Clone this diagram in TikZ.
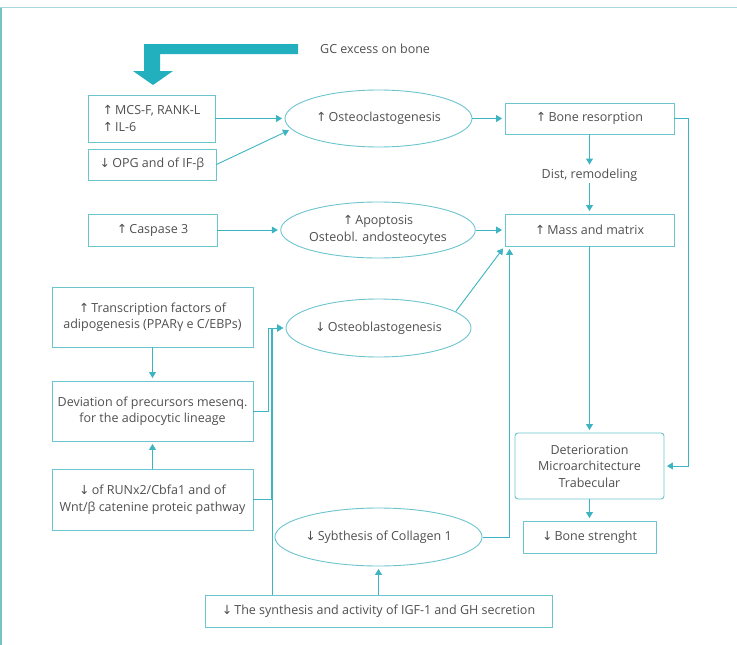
\documentclass[tikz,border=0pt]{standalone}
\usepackage{fontspec}
\setmainfont{Open Sans}
\newfontfamily\arrfont{DejaVu Sans}
\usetikzlibrary{shapes.geometric,arrows.meta,calc}
\definecolor{boxc}{HTML}{6CC4CE}
\definecolor{linec}{HTML}{3DB4C2}
\definecolor{bigc}{HTML}{22AFBE}
\definecolor{txt}{HTML}{4F4F4F}
\definecolor{frametop}{HTML}{A9D7DC}
\definecolor{frameleft}{HTML}{77C3C7}
\newcommand{\UpA}{{\arrfont ↑}\,}
\newcommand{\DnA}{{\arrfont ↓}\,}
\begin{document}
\begin{tikzpicture}[x=1pt,y=-1pt, font=\fontsize{12.5}{16.5}\selectfont, text=txt,
 bx/.style={draw=boxc, line width=0.9pt, inner sep=2pt, align=center},
 el/.style={ellipse, draw=boxc, line width=0.9pt, inner sep=0pt, align=center},
 con/.style={draw=linec, line width=0.9pt, -{Triangle[length=6pt,width=7pt]}, shorten >=2.5pt},
 ln/.style={draw=linec, line width=0.9pt}]
\useasboundingbox (0,0) rectangle (737,645);
% frame
\draw[frametop, line width=1.5pt] (0,7.5) -- (737,7.5);
\draw[frameleft, line width=1.5pt] (0.75,7.5) -- (0.75,645);
% big arrow
\fill[bigc] (144,44) -- (298,44) -- (298,54) -- (160,54) -- (160,71) -- (173,71) -- (153,85) -- (133,71) -- (144,71) -- cycle;
\node[anchor=west, inner sep=0pt] (gc) at (320,49) {GC excess on bone};
% nodes
\node[bx, align=left, minimum width=127pt, minimum height=47pt] (mcs) at (151.5,118.5) {\UpA MCS-F, RANK-L\\\UpA IL-6};
\node[bx, minimum width=128pt, minimum height=31pt] (opg) at (152,164.5) {\DnA OPG and of IF-β};
\node[bx, minimum width=129pt, minimum height=32pt] (cas) at (152.5,230) {\UpA Caspase 3};
\node[el, minimum width=187pt, minimum height=57pt] (oc) at (378.5,118.5) {\UpA Osteoclastogenesis};
\node[el, minimum width=186pt, minimum height=56pt] (ap) at (378,230) {\UpA Apoptosis\\Osteobl. andosteocytes};
\node[bx, minimum width=169pt, minimum height=31pt] (br) at (589.5,118.5) {\UpA Bone resorption};
\node[inner sep=1.5pt] (dist) at (589.5,175) {Dist, remodeling};
\node[bx, minimum width=169pt, minimum height=32pt] (mass) at (589.5,230) {\UpA Mass and matrix};
\node[bx, minimum width=201pt, minimum height=60pt] (tf) at (152.5,317) {\UpA Transcription factors of\\adipogenesis (PPARγ e C/EBPs)};
\node[bx, minimum width=201pt, minimum height=60pt] (dev) at (152.5,411) {Deviation of precursors mesenq.\\for the adipocytic lineage};
\node[bx, minimum width=201pt, minimum height=61pt] (run) at (152.5,499.5) {\DnA of RUNx2/Cbfa1 and of\\Wnt/β catenine proteic pathway};
\node[el, minimum width=185pt, minimum height=58pt] (ob) at (378.5,328) {\DnA Osteoblastogenesis};
\node[el, minimum width=185pt, minimum height=58pt] (col) at (378.5,537) {\DnA Sybthesis of Collagen 1};
\node[bx, rounded corners=3pt, minimum width=149pt, minimum height=66pt] (det) at (589.5,466) {Deterioration\\Microarchitecture\\Trabecular};
\node[bx, minimum width=133pt, minimum height=32pt] (bs) at (589.5,537) {\DnA Bone strenght};
\node[bx, minimum width=347pt, minimum height=32pt] (igf) at (378.5,611) {\DnA The synthesis and activity of IGF-1 and GH secretion};
% connectors
\draw[con] (mcs.east) -- (oc.west);
\draw[con] (opg.east) -- (oc.187);
\draw[con] (cas.east) -- (ap.west);
\draw[con] (oc.east) -- (br.west);
\draw[con] (ap.east) -- (mass.west);
\draw[con] (br.south) -- (dist.north);
\draw[con] (dist.south) -- (mass.north);
\draw[con] (ob.12) -- (mass.south west);
\draw[con] (col.east) -| ($(mass.south west)+(5,0)$);
\draw[con] (mass.south) -- (det.north);
\draw[con] (br.east) -- ++(14,0) |- (det.east);
\draw[con] (det.south) -- (bs.north);
\draw[con] (tf.south) -- (dev.north);
\draw[con] (run.north) -- (dev.south);
\draw[con] (dev.east) -- ++(15,0) |- (ob.west);
\draw[con] (run.east) -- ++(18,0) |- (ob.west);
\draw[con] ($(igf.north west)+(68,0)$) |- (ob.west);
\draw[con] (igf.north) -- (col.south);
\end{tikzpicture}
\end{document}
